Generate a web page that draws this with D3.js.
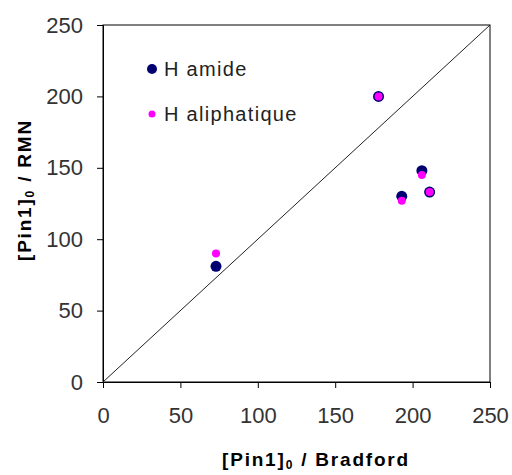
<!DOCTYPE html>
<html>
<head>
<meta charset="utf-8">
<script src="https://cdn.jsdelivr.net/npm/d3@7/dist/d3.min.js"></script>
<style>
  html, body { margin: 0; padding: 0; background: #fff; }
  svg { display: block; }
  text { font-family: "Liberation Sans", Arial, sans-serif; }
</style>
</head>
<body>
<svg id="chart" width="512" height="475"></svg>
<script>
// ---- data ----
const bradford = [73, 178, 193, 206, 211];
const hAmide = [81, 200, 130, 148, 133];
const hAliphatique = [90, 200, 127, 145, 133];
const tickValues = [0, 50, 100, 150, 200, 250];
const seriesNames = ["H amide", "H aliphatique"];
const seriesColors = ["#000070", "#ff00ff"];

const svg = d3.select("#chart");
const x = d3.scaleLinear().domain([0, 250]).range([103, 490]);
const y = d3.scaleLinear().domain([0, 250]).range([382, 25]);

// frame
svg.append("rect")
  .attr("x", x(0)).attr("y", y(250))
  .attr("width", x(250) - x(0)).attr("height", y(0) - y(250))
  .attr("fill", "#fff").attr("stroke", "#000").attr("stroke-width", 1);

// axes
const xAxis = svg.append("g").attr("transform", `translate(0,${y(0)})`)
  .call(d3.axisBottom(x).tickValues(tickValues).tickSize(6).tickPadding(19));
const yAxis = svg.append("g").attr("transform", `translate(${x(0)},0)`)
  .call(d3.axisLeft(y).tickValues(tickValues).tickSize(6).tickPadding(14));
[xAxis, yAxis].forEach(g => {
  g.select(".domain").attr("stroke", "#000");
  g.selectAll(".tick line").attr("stroke", "#000");
  g.selectAll(".tick text")
    .attr("font-family", "Liberation Sans, Arial, sans-serif")
    .attr("font-size", 22).attr("fill", "#333");
});

// diagonal y = x
svg.append("line")
  .attr("x1", x(0)).attr("y1", y(0))
  .attr("x2", x(250)).attr("y2", y(250))
  .attr("stroke", "#222").attr("stroke-width", 1);

// points: amide (larger navy) then aliphatique (smaller magenta) on top
svg.append("g").selectAll("circle").data(bradford.map((b, i) => [b, hAmide[i]]))
  .join("circle")
  .attr("cx", d => x(d[0])).attr("cy", d => y(d[1]))
  .attr("r", 5.5).attr("fill", seriesColors[0]);
svg.append("g").selectAll("circle").data(bradford.map((b, i) => [b, hAliphatique[i]]))
  .join("circle")
  .attr("cx", d => x(d[0])).attr("cy", d => y(d[1]))
  .attr("r", 4).attr("fill", seriesColors[1]);

// legend
const legendY = [69, 114];
const legendR = [5, 3.5];
seriesNames.forEach((name, i) => {
  svg.append("circle").attr("cx", 152).attr("cy", legendY[i])
    .attr("r", legendR[i]).attr("fill", seriesColors[i]);
  svg.append("text").attr("x", 164).attr("y", legendY[i] + 7)
    .attr("font-size", 20).attr("letter-spacing", "1.3px").attr("fill", "#222")
    .text(name);
});

// axis titles
const xt = svg.append("text").attr("x", 316).attr("y", 466)
  .attr("text-anchor", "middle").attr("font-size", 19).attr("font-weight", "bold")
  .attr("letter-spacing", "1.8px").attr("fill", "#000");
xt.append("tspan").text("[Pin1]");
xt.append("tspan").attr("font-size", 12).attr("dy", 3).text("0");
xt.append("tspan").attr("dy", -3).text(" / Bradford");

const yt = svg.append("text")
  .attr("transform", "translate(31,190) rotate(-90)")
  .attr("text-anchor", "middle").attr("font-size", 19).attr("font-weight", "bold")
  .attr("letter-spacing", "1.8px").attr("fill", "#000");
yt.append("tspan").text("[Pin1]");
yt.append("tspan").attr("font-size", 12).attr("dy", 3).text("0");
yt.append("tspan").attr("dy", -3).text(" / RMN");
</script>
</body>
</html>
